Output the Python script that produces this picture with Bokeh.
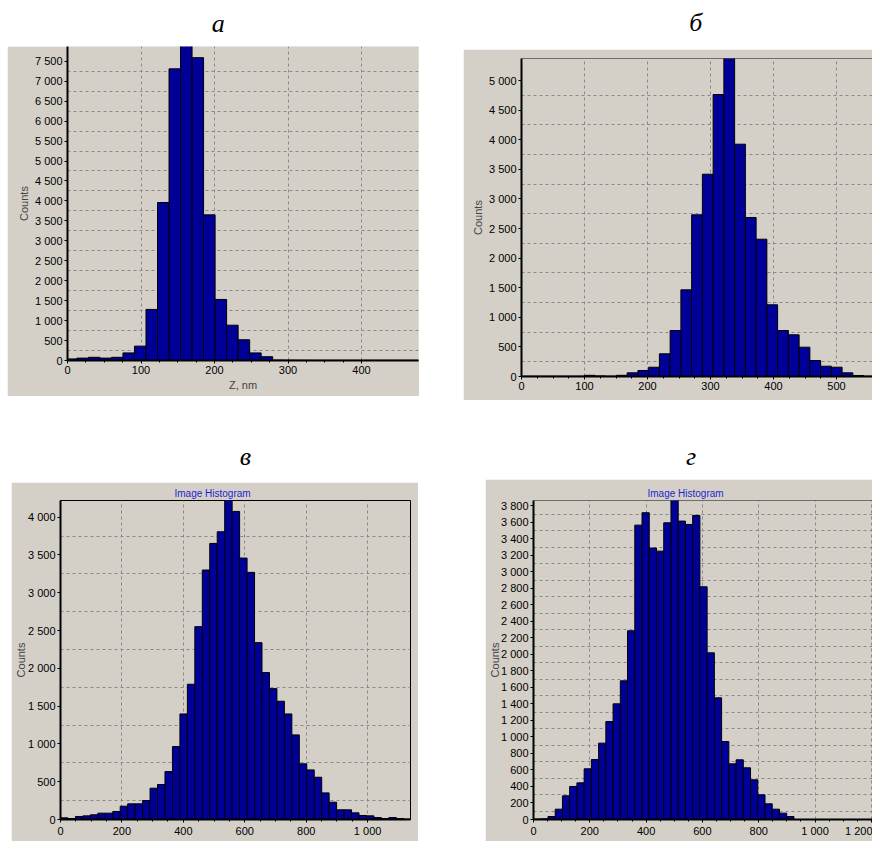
import numpy as np
from bokeh.plotting import figure
from bokeh.layouts import row, column
from bokeh.models import FixedTicker, Range1d, Label, Span, Spacer, Title
from bokeh.embed import file_html
from bokeh.resources import INLINE

# ---------------- data ----------------
# panel а
a_bin_start = -2.9
a_bin_width = 15.67
a_counts = [40, 60, 80, 60, 80, 190, 360, 1280, 3960, 7310, 7950, 7590, 3650, 1530,
            885, 520, 190, 95, 10, 8, 6, 5, 5, 5, 5, 5, 5, 5, 5, 5, 5]
a_xticks = [0, 100, 200, 300, 400]
a_yticks = [0, 500, 1000, 1500, 2000, 2500, 3000, 3500, 4000, 4500, 5000, 5500,
            6000, 6500, 7000, 7500]

# panel б
b_bin_start = -2.9
b_bin_width = 17.06
b_counts = [5, 5, 5, 5, 5, 5, 20, 10, 5, 20, 62, 101, 157, 383, 777, 1464, 2731,
            3417, 4763, 5450, 3924, 2686, 2319, 1211, 777, 704, 495, 270, 174, 157,
            62, 17, 5]
b_xticks = [0, 100, 200, 300, 400, 500]
b_yticks = [0, 500, 1000, 1500, 2000, 2500, 3000, 3500, 4000, 4500, 5000]

# panel в
c_bin_start = 0.0
c_bin_width = 24.3
c_counts = [22, 13, 40, 48, 62, 84, 84, 106, 176, 207, 207, 251, 414, 463, 634, 965,
            1396, 1789, 2551, 3300, 3652, 3806, 4250, 4075, 3458, 3269, 2339, 1943,
            1731, 1564, 1396, 1119, 736, 656, 559, 352, 229, 128, 128, 88, 53, 48,
            26, 13, 26, 13, 5]
c_xticks = [0, 200, 400, 600, 800, 1000]
c_yticks = [0, 500, 1000, 1500, 2000, 2500, 3000, 3500, 4000]

# panel г
d_bin_start = 0.0
d_bin_width = 25.7
d_counts = [5, 8, 36, 125, 287, 400, 444, 614, 727, 925, 1187, 1401, 1680, 2286,
            3566, 3716, 3288, 3251, 3594, 3900, 3615, 3574, 3683, 2819, 2019, 1474,
            945, 674, 723, 626, 481, 299, 190, 125, 77, 36]
d_xticks = [0, 200, 400, 600, 800, 1000, 1200]
d_yticks = [0, 200, 400, 600, 800, 1000, 1200, 1400, 1600, 1800, 2000, 2200, 2400,
            2600, 2800, 3000, 3200, 3400, 3600, 3800]

panel_letters = ["а", "б", "в", "г"]
chart_title = "Image Histogram"
x_label = "Z, nm"
y_label = "Counts"

# ---------------- style ----------------
GRAY = "#D4D0C8"
BAR = "#000099"
FONT = "Liberation Sans"
GRID = "#8a8a8a"


def fmt(t):
    return f"{t:,}".replace(",", " ")


def minor_ticks(ticks, n):
    out = []
    for a, b in zip(ticks[:-1], ticks[1:]):
        step = (b - a) / n
        out += [a + step * k for k in range(1, n)]
    return out


def panel(width, height, bl, bt, br, bb, xmax, ymax, start, binw, counts,
          xticks, yticks, xlabel=None, ylabel_standoff=2, title_offset=None,
          top_line=False, outline=False):
    p = figure(width=width, height=height, x_range=Range1d(0, xmax),
               y_range=Range1d(0, ymax), output_backend="svg",
               toolbar_location=None, min_border_left=bl, min_border_top=bt,
               min_border_right=br, min_border_bottom=bb,
               background_fill_color=GRAY, border_fill_color=GRAY,
               outline_line_color="black" if outline else None)
    edges = start + binw * np.arange(len(counts) + 1)
    p.quad(left=edges[:-1], right=edges[1:], bottom=0, top=counts,
           fill_color=BAR, line_color="black", line_width=1)

    p.xaxis.ticker = FixedTicker(ticks=xticks, minor_ticks=minor_ticks(xticks, 4))
    p.yaxis.ticker = FixedTicker(ticks=yticks)
    p.xaxis.major_label_overrides = {t: fmt(t) for t in xticks}
    p.yaxis.major_label_overrides = {t: fmt(t) for t in yticks}
    for ax in (p.xaxis[0], p.yaxis[0]):
        ax.axis_line_width = 2
        ax.axis_line_color = "black"
        ax.major_tick_out = 3
        ax.major_tick_in = 0
        ax.minor_tick_out = 2
        ax.minor_tick_in = 0
        ax.major_label_standoff = 2
        ax.major_label_text_font = FONT
        ax.major_label_text_font_size = "11px"
        ax.major_label_text_color = "black"
        ax.axis_label_text_font = FONT
        ax.axis_label_text_font_size = "11px"
        ax.axis_label_text_font_style = "normal"
        ax.axis_label_standoff = 2
    p.yaxis.minor_tick_line_color = None
    p.yaxis.axis_label = y_label
    p.yaxis.axis_label_standoff = ylabel_standoff
    if xlabel:
        p.xaxis.axis_label = xlabel

    p.xgrid.ticker = FixedTicker(ticks=xticks)
    p.ygrid.ticker = FixedTicker(ticks=[(a + b) / 2 for a, b in zip(yticks[:-1], yticks[1:])])
    p.grid.grid_line_color = GRID
    p.grid.grid_line_dash = "3 3"
    p.grid.grid_line_width = 1

    if top_line:
        p.add_layout(Span(location=ymax, dimension="width", line_color="black",
                          line_width=1))
    if title_offset is not None:
        p.add_layout(Title(text=chart_title, align="left", offset=title_offset,
                           vertical_align="middle", standoff=2,
                           text_font=FONT, text_font_size="10px",
                           text_font_style="normal", text_color="#1f1fcf"),
                     "above")
    return p


def header(width, height, cx, cy, letter):
    h = figure(width=width, height=height, x_range=Range1d(0, width),
               y_range=Range1d(0, height), output_backend="svg",
               toolbar_location=None, min_border=0, outline_line_color=None,
               x_axis_location=None, y_axis_location=None,
               background_fill_color="white", border_fill_color="white")
    h.grid.visible = False
    h.add_layout(Label(x=cx, y=height - cy, text=letter,
                       text_font="Liberation Serif", text_font_style="italic",
                       text_font_size="26px", text_color="black",
                       text_align="center", text_baseline="middle"))
    return h


pa = panel(412, 350, 60, 0, 1, 36, 351 / 0.735, 314 / 19.95 * 500,
           a_bin_start, a_bin_width, a_counts, a_xticks, a_yticks, xlabel=x_label)
pb = panel(409, 351, 58, 9, 0, 24, 351 / 0.63, 318 / 29.6 * 500,
           b_bin_start, b_bin_width, b_counts, b_xticks, b_yticks, top_line=True)
pc = panel(407, 359, 48, 18, 8, 22, 351 / 0.308, 319 / 37.8 * 500,
           c_bin_start, c_bin_width, c_counts, c_xticks, c_yticks,
           ylabel_standoff=-2, title_offset=114, outline=True)
pd = panel(387, 362, 48, 21, 0, 22, 339 / 0.2815, 319 / 16.51 * 200,
           d_bin_start, d_bin_width, d_counts, d_xticks, d_yticks,
           ylabel_standoff=-3, title_offset=114, top_line=True)

ha = header(412, 46, 177, 23, panel_letters[0])
hb = header(409, 49, 203, 22, panel_letters[1])
hc = header(407, 82, 215, 56, panel_letters[2])
hd = header(387, 79, 180, 56, panel_letters[3])

layout = column(
    row(Spacer(width=7, height=10), column(ha, pa), Spacer(width=44, height=10),
        column(hb, pb)),
    row(Spacer(width=11, height=10), column(hc, pc), Spacer(width=67, height=10),
        column(hd, pd)),
)

open("out.html", "w").write(file_html(layout, INLINE))
